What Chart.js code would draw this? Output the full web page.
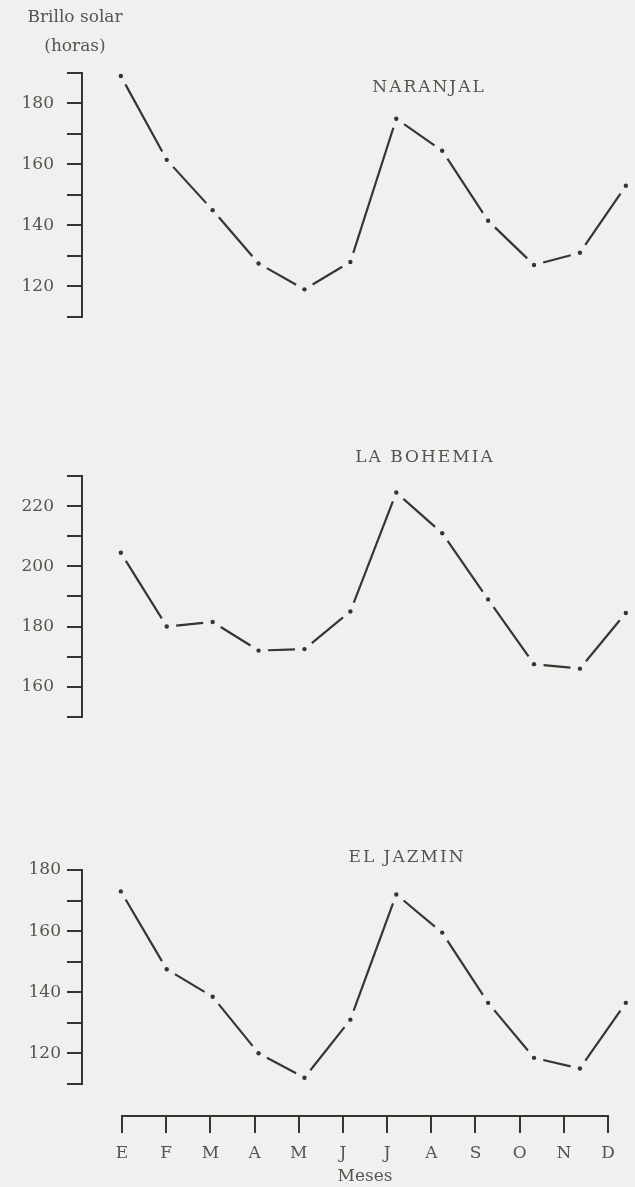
<!DOCTYPE html>
<html>
<head>
<meta charset="utf-8">
<script src="https://cdn.jsdelivr.net/npm/chart.js@4.4.1/dist/chart.umd.min.js"></script>
<style>
  html, body { margin: 0; padding: 0; background: #f0f0f0; }
  body { width: 635px; height: 1187px; position: relative; overflow: hidden; }
  canvas { position: absolute; left: 0; }
</style>
</head>
<body>
<canvas id="c1" width="635" height="340" style="top:0px"></canvas>
<canvas id="c2" width="635" height="340" style="top:400px"></canvas>
<canvas id="c3" width="635" height="310" style="top:790px"></canvas>
<canvas id="cx" width="635" height="87" style="top:1100px"></canvas>
<script>
// ---- data ----
const months = ['E', 'F', 'M', 'A', 'M', 'J', 'J', 'A', 'S', 'O', 'N', 'D'];
const naranjal = [189, 161.5, 145, 127.5, 119, 128, 175, 164.5, 141.5, 127, 131, 153];
const laBohemia = [204.5, 180, 181.5, 172, 172.5, 185, 224.5, 211, 189, 167.5, 166, 184.5];
const elJazmin = [173, 147.5, 138.5, 120, 112, 131, 172, 159.5, 136.5, 118.5, 115, 136.5];
const panelTitles = ['NARANJAL', 'LA BOHEMIA', 'EL JAZMIN'];
const yAxisTitle = ['Brillo solar', '(horas)'];
const xAxisTitle = 'Meses';

// ---- style ----
const BG = '#f0f0f0';
const INK = '#36362e';
const TEXT = '#55554d';
const FAMILY = '"DejaVu Serif", "Liberation Serif", serif';
const FSIZE = 17;
const GAP = 9.5; // blank space left on the line around each observation dot

function segLen(c) {
  return Math.hypot(c.p1.x - c.p0.x, c.p1.y - c.p0.y);
}

const freeText = {
  id: 'freeText',
  afterDraw(chart, args, opts) {
    const ctx = chart.ctx;
    (opts.items || []).forEach(it => {
      ctx.save();
      ctx.font = `${it.size || FSIZE}px ${FAMILY}`;
      ctx.fillStyle = TEXT;
      ctx.textAlign = 'center';
      ctx.textBaseline = 'middle';
      if ('letterSpacing' in ctx) ctx.letterSpacing = (it.spacing || 0) + 'px';
      ctx.fillText(it.text, it.x + (it.spacing || 0) / 2, it.y);
      ctx.restore();
    });
  }
};

function makePanel(id, values, yMin, yMax, padTop, padBottom, labelPad, texts) {
  const linePts = values.map((v, i) => ({ x: i, y: v }));
  const dotPts = values.map((v, i) => ({ x: i, y: v }));
  return new Chart(document.getElementById(id), {
    type: 'line',
    data: {
      datasets: [
        { // observation dots
          data: dotPts, order: 1, showLine: false,
          pointStyle: 'circle', pointRadius: 2.2, pointHoverRadius: 2.2,
          pointBackgroundColor: INK, pointBorderWidth: 0, pointBorderColor: INK,
          clip: false
        },
        { // connecting line, broken just before/after each dot
          data: linePts, order: 2,
          borderColor: INK, borderWidth: 2.2,
          pointRadius: 0, pointHoverRadius: 0,
          tension: 0, fill: false, clip: false,
          segment: {
            borderDash: c => { const L = segLen(c); return [Math.max(L - 2 * GAP, 0.01), 2 * GAP]; },
            borderDashOffset: c => segLen(c) - GAP
          }
        }
      ]
    },
    options: {
      responsive: false,
      animation: false,
      events: [],
      layout: { padding: { left: 0, right: 0, top: padTop, bottom: padBottom } },
      plugins: {
        legend: { display: false },
        tooltip: { enabled: false },
        title: { display: false },
        freeText: { items: texts }
      },
      scales: {
        x: {
          type: 'linear',
          display: false,
          min: -0.846,
          max: 11.152
        },
        y: {
          type: 'linear',
          position: 'left',
          min: yMin,
          max: yMax,
          afterFit: s => { s.width = 82; },
          border: { display: true, color: INK, width: 2 },
          grid: {
            display: true,
            drawOnChartArea: false,
            drawTicks: true,
            tickLength: 15,
            color: INK,
            lineWidth: 2
          },
          ticks: {
            stepSize: 10,
            padding: labelPad,
            color: TEXT,
            font: { family: FAMILY, size: FSIZE },
            callback: v => (v % 20 === 0 ? String(v) : '')
          }
        }
      }
    },
    plugins: [freeText]
  });
}

makePanel('c1', naranjal, 110, 190, 73, 19, 13, [
  { text: yAxisTitle[0], x: 75, y: 18 },
  { text: yAxisTitle[1], x: 75, y: 47 },
  { text: panelTitles[0], x: 428, y: 88, spacing: 2 }
]);
makePanel('c2', laBohemia, 150, 230, 76, 20, 13, [
  { text: panelTitles[1], x: 424, y: 58, spacing: 2 }
]);
makePanel('c3', elJazmin, 110, 180, 80, 15, 6, [
  { text: panelTitles[2], x: 406, y: 68, spacing: 2 }
]);

// shared month axis
new Chart(document.getElementById('cx'), {
  type: 'line',
  data: { labels: months, datasets: [] },
  options: {
    responsive: false,
    animation: false,
    events: [],
    layout: { padding: { left: 122, right: 27, top: 6, bottom: 0 } },
    plugins: { legend: { display: false }, tooltip: { enabled: false } },
    scales: {
      y: { display: false },
      x: {
        type: 'category',
        display: true,
        offset: false,
        afterFit: s => { s.height = 71; },
        border: { display: true, color: INK, width: 2 },
        grid: {
          display: true,
          drawOnChartArea: false,
          drawTicks: true,
          tickLength: 17,
          color: INK,
          lineWidth: 2
        },
        ticks: {
          autoSkip: false,
          maxRotation: 0,
          padding: 10,
          color: TEXT,
          font: { family: FAMILY, size: FSIZE }
        },
        title: {
          display: true,
          text: xAxisTitle,
          color: TEXT,
          font: { family: FAMILY, size: FSIZE },
          padding: { top: 0, bottom: 0 }
        }
      }
    }
  }
});
</script>
</body>
</html>
